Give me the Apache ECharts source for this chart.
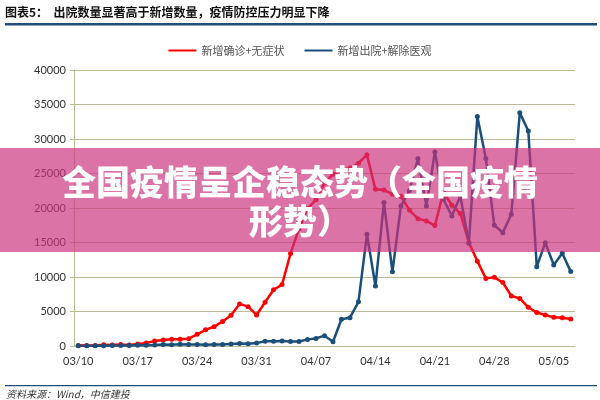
<!DOCTYPE html>
<html>
<head>
<meta charset="utf-8">
<script src="https://cdn.jsdelivr.net/npm/echarts@6/dist/echarts.min.js"></script>
<style>
html,body{margin:0;padding:0;background:#fff;}
#c{width:600px;height:400px;}
</style>
</head>
<body>
<div id="c"></div>
<script>
var categories = [
'03/10','03/11','03/12','03/13','03/14','03/15','03/16','03/17','03/18','03/19','03/20',
'03/21','03/22','03/23','03/24','03/25','03/26','03/27','03/28','03/29','03/30','03/31',
'04/01','04/02','04/03','04/04','04/05','04/06','04/07','04/08','04/09','04/10',
'04/11','04/12','04/13','04/14','04/15','04/16','04/17','04/18','04/19','04/20',
'04/21','04/22','04/23','04/24','04/25','04/26','04/27','04/28','04/29','04/30',
'05/01','05/02','05/03','05/04','05/05','05/06','05/07'
];
var newCases = [
75, 83, 65, 169, 139, 202, 158, 300, 420, 720, 870,
970, 980, 1060, 1700, 2350, 2800, 3550, 4450, 6100, 5700, 4500,
6350, 8150, 8900, 13400, 17000, 19900, 21200, 23600, 24900, 25500,
25800, 26500, 27700, 22700, 22600, 22000, 21700, 19700, 18460, 18120,
17450, 22300, 20400, 19200, 15000, 12300, 9800, 9950, 9200,
7250, 6900, 5600, 4850, 4500, 4150, 4100, 3900
];
var discharged = [
20, 30, 40, 50, 60, 60, 80, 100, 120, 150, 200,
180, 250, 200, 220, 170, 230, 200, 280, 350, 320, 420,
680, 700, 720, 650, 660, 960, 1100, 1500, 620, 3870,
4100, 6400, 16190, 8700, 20800, 10750, 20300, 22500, 27160, 20290,
28120, 21260, 18840, 21740, 14880, 33250, 27160, 17490, 16430,
19090, 33820, 31160, 11500, 14980, 11740, 13430, 10780
];
var seriesNames = ['新增确诊+无症状', '新增出院+解除医观'];
var yTicks = {min: 0, max: 40000, interval: 5000};

var chart = echarts.init(document.getElementById('c'), null, {renderer: 'canvas'});
var gridColor = '#bdba98';
var axisFont = 'Lato, "Open Sans", sans-serif';
chart.setOption({
  animation: false,
  backgroundColor: '#ffffff',
  grid: {left: 74, right: 25, top: 70, bottom: 54},
  legend: {
    top: 40, left: 'center',
    itemWidth: 28, itemHeight: 10, itemGap: 20,
    textStyle: {fontFamily: '"Noto Sans CJK SC", sans-serif', fontSize: 11, color: '#555'},
    data: [
      {name: seriesNames[0], icon: 'path://M0,4 L28,4 L28,6 L0,6 Z'},
      {name: seriesNames[1], icon: 'path://M0,4 L28,4 L28,6 L0,6 Z'}
    ]
  },
  xAxis: {
    type: 'category',
    data: categories,
    boundaryGap: true,
    axisLine: {lineStyle: {color: gridColor, width: 1}},
    axisTick: {interval: 6, length: 5, lineStyle: {color: gridColor}},
    axisLabel: {interval: 6, margin: 10, fontSize: 11, color: '#333', fontFamily: axisFont},
    splitLine: {show: false}
  },
  yAxis: {
    type: 'value',
    min: yTicks.min, max: yTicks.max, interval: yTicks.interval,
    axisLine: {show: true, lineStyle: {color: gridColor, width: 1}},
    axisTick: {show: true, length: 4, lineStyle: {color: gridColor}},
    axisLabel: {fontSize: 11, color: '#333', margin: 8, fontFamily: axisFont,
                formatter: function (v) { return String(v); }},
    splitLine: {lineStyle: {color: gridColor, width: 1}}
  },
  series: [
    {
      name: seriesNames[0], type: 'line', data: newCases,
      symbol: 'circle', symbolSize: 5,
      lineStyle: {color: '#ff0000', width: 2.5},
      itemStyle: {color: '#ff0000'}
    },
    {
      name: seriesNames[1], type: 'line', data: discharged,
      symbol: 'circle', symbolSize: 5,
      lineStyle: {color: '#1b4f7b', width: 2.5},
      itemStyle: {color: '#1b4f7b'}
    }
  ],
  graphic: [
    {type: 'text', left: 5, top: 6, z: 50,
     style: {text: '图表5：  出院数量显著高于新增数量，疫情防控压力明显下降', font: 'bold 12px "Noto Sans CJK SC", sans-serif', fill: '#111'}},
    {type: 'rect', shape: {x: 5, y: 23, width: 592, height: 2.5}, z: 50, style: {fill: '#1f4e79'}},
    {type: 'rect', shape: {x: 5, y: 385, width: 592, height: 1.2}, z: 50, style: {fill: '#1f4e79'}},
    {type: 'text', left: 6, top: 389, z: 50,
     style: {text: '资料来源：Wind，中信建投', font: 'italic 10px "Noto Sans CJK SC", sans-serif', fill: '#333'}},
    {type: 'rect', shape: {x: 0, y: 148, width: 600, height: 104}, z: 100,
     style: {fill: 'rgba(203,48,126,0.68)'}},
    {type: 'text', x: 300, y: 182, z: 101,
     style: {text: '全国疫情呈企稳态势（全国疫情', font: '900 34px "Noto Sans CJK SC", sans-serif', fill: '#ffffff',
             textAlign: 'center', textVerticalAlign: 'middle', shadowColor: 'rgba(0,0,0,0.35)', shadowBlur: 3, shadowOffsetX: 1, shadowOffsetY: 1}},
    {type: 'text', x: 300, y: 221, z: 101,
     style: {text: '形势）', font: '900 34px "Noto Sans CJK SC", sans-serif', fill: '#ffffff',
             textAlign: 'center', textVerticalAlign: 'middle', shadowColor: 'rgba(0,0,0,0.35)', shadowBlur: 3, shadowOffsetX: 1, shadowOffsetY: 1}}
  ]
});
</script>
</body>
</html>
